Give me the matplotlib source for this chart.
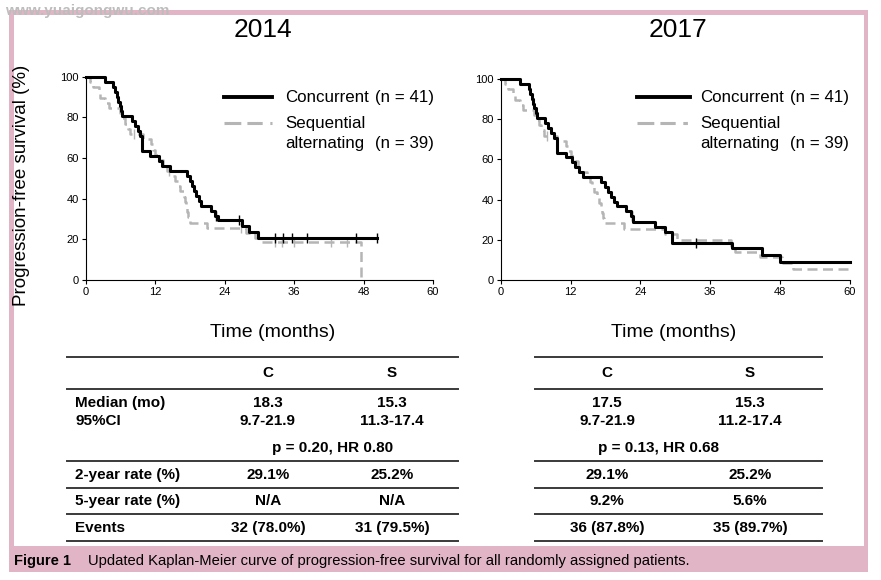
import matplotlib
matplotlib.use("Agg")
import matplotlib.pyplot as plt
import numpy as np
from matplotlib.patches import Rectangle

plt.rcParams["font.family"] = ["Liberation Sans", "DejaVu Sans"]

# --- curve data (months, % progression-free) ---
c14_t = [0, 3.3, 4.7, 5.0, 5.3, 5.5, 5.8, 6.0, 6.2, 7.9, 8.5, 9.0, 9.3, 9.7, 11.1, 12.6,
         13.1, 14.5, 17.4, 17.9, 18.3, 18.7, 19.1, 19.5, 19.8, 21.7, 22.3, 22.8, 26.9,
         28.1, 29.8, 50.3]
c14_s = [100, 97.6, 95.1, 92.7, 90.2, 87.8, 85.4, 82.9, 80.5, 78.0, 75.6, 73.2, 70.7, 63.4,
         61.0, 58.5, 56.1, 53.7, 51.2, 48.8, 46.3, 43.9, 41.5, 39.0, 36.6, 34.1, 31.7, 29.3,
         26.8, 23.5, 20.8, 20.8]
c14_cens = [22.5, 26.5, 32.7, 34.0, 35.6, 38.2, 46.7, 50.3]

s14_t = [0, 0.7, 1.2, 2.2, 2.5, 3.3, 3.9, 5.9, 6.3, 6.8, 7.3, 7.6, 9.9, 11.2, 11.5, 11.9,
         12.6, 13.4, 14.0, 15.1, 15.4, 15.9, 16.2, 16.9, 17.1, 17.3, 17.5, 17.7, 17.9, 20.9,
         27.7, 29.2, 30.3, 47.6]
s14_s = [100, 97.4, 94.9, 92.3, 89.7, 87.2, 84.6, 82.1, 79.5, 76.9, 74.4, 71.8, 69.2, 66.7,
         64.1, 61.5, 59.0, 56.4, 53.8, 51.3, 48.7, 46.2, 43.6, 41.0, 38.5, 35.9, 33.3, 30.8,
         28.2, 25.6, 23.0, 20.5, 18.9, 0]
s14_cens = [8.3, 14.3, 26.8, 32.7, 33.9, 35.9, 42.3, 45.2]

c17_t = [0, 3.3, 4.8, 5.1, 5.4, 5.6, 5.8, 6.0, 6.2, 7.6, 8.2, 8.7, 9.2, 9.6, 11.2, 12.2,
         12.8, 13.4, 14.2, 17.3, 17.9, 18.4, 18.9, 19.4, 20.0, 21.6, 22.3, 22.8, 26.5, 28.2,
         29.5, 39.7, 44.9, 48.0, 60]
c17_s = [100, 97.6, 95.1, 92.7, 90.2, 87.8, 85.4, 82.9, 80.5, 78.0, 75.6, 73.2, 70.7, 63.4,
         61.0, 58.5, 56.1, 53.7, 51.2, 48.8, 46.3, 43.9, 41.5, 39.0, 36.6, 34.1, 31.7, 29.1,
         26.5, 24.0, 18.5, 15.7, 12.4, 9.2, 9.2]
c17_cens = [22.6, 33.5]

s17_t = [0, 0.8, 1.3, 2.1, 2.4, 3.4, 3.8, 5.8, 6.2, 6.6, 7.0, 7.4, 9.7, 11.3, 11.6, 12.0,
         12.7, 13.2, 13.6, 14.9, 15.3, 15.7, 16.0, 16.6, 16.9, 17.2, 17.4, 17.6, 17.8, 21.2,
         28.3, 30.2, 39.5, 40.2, 44.6, 48.3, 50.2, 60]
s17_s = [100, 97.4, 94.9, 92.3, 89.7, 87.2, 84.6, 82.1, 79.5, 76.9, 74.4, 71.8, 69.2, 66.7,
         64.1, 61.5, 59.0, 56.4, 53.8, 51.3, 48.7, 46.2, 43.6, 41.0, 38.5, 35.9, 33.3, 30.8,
         28.2, 25.6, 23.0, 19.8, 16.9, 14.1, 11.3, 8.5, 5.6, 5.6]
s17_cens = [8.0]

x_ticks = [0, 12, 24, 36, 48, 60]
y_ticks = [0, 20, 40, 60, 80, 100]

# --- table data ---
col_heads = ["C", "S"]
row_labels = ["Median (mo)", "95%CI", "2-year rate (%)", "5-year rate (%)", "Events"]
t14_c = ["18.3", "9.7-21.9", "29.1%", "N/A", "32 (78.0%)"]
t14_s = ["15.3", "11.3-17.4", "25.2%", "N/A", "31 (79.5%)"]
t14_p = "p = 0.20, HR 0.80"
t17_c = ["17.5", "9.7-21.9", "29.1%", "9.2%", "36 (87.8%)"]
t17_s = ["15.3", "11.2-17.4", "25.2%", "5.6%", "35 (89.7%)"]
t17_p = "p = 0.13, HR 0.68"

BLACK = "black"
GREY = "#b5b5b5"
PINK = "#e2b5c6"
DASH = (0, (4, 2.2))


def at_times(t, s, ct):
    idx = np.searchsorted(t, ct, side="right") - 1
    return np.asarray(s)[idx]


W, H = 881, 580
fig = plt.figure(figsize=(W / 100, H / 100), dpi=100)

# overlay in pixel coordinates for frame, tables and caption
bg = fig.add_axes([0, 0, 1, 1])
bg.set_xlim(0, W)
bg.set_ylim(H, 0)
bg.axis("off")
bg.add_patch(Rectangle((10, 10), 858, 5, color=PINK, lw=0))
bg.add_patch(Rectangle((9, 10), 5, 540, color=PINK, lw=0))
bg.add_patch(Rectangle((864, 10), 4, 562, color=PINK, lw=0))
bg.add_patch(Rectangle((9, 546), 859, 26, color=PINK, lw=0))
bg.text(5, 15, "www.yuaigongwu.com", fontsize=11, fontweight="bold", color="#bdbdbd",
        va="baseline")
bg.text(14, 561, "Figure 1", fontsize=10.5, fontweight="bold", va="center")
bg.text(88, 561, "Updated Kaplan-Meier curve of progression-free survival for all "
        "randomly assigned patients.", fontsize=10.6, va="center")


def draw_table(x0, x1, xc, xs, xp, cvals, svals, pval, with_labels):
    for y in [357, 389, 461, 488, 514, 541]:
        bg.plot([x0, x1], [y, y], color="#3a3a3a", lw=1.4)
    kw = dict(fontsize=11, fontweight="bold", va="center")
    bg.text(xc, 373, col_heads[0], ha="center", **kw)
    bg.text(xs, 373, col_heads[1], ha="center", **kw)
    rows_y = [403, 421, 475, 501, 528]
    for i, y in enumerate(rows_y):
        if with_labels:
            bg.text(75, y, row_labels[i], ha="left", **kw)
        bg.text(xc, y, cvals[i], ha="center", **kw)
        bg.text(xs, y, svals[i], ha="center", **kw)
    bg.text(xp, 448, pval, ha="center", **kw)


draw_table(67, 458, 268, 392, 333, t14_c, t14_s, t14_p, True)
draw_table(535, 822, 607, 750, 658, t17_c, t17_s, t17_p, False)


def km_panel(rect, title, title_xy, ct, cs, ccens, st, ss, scens, leg, xlabel_xy, ylabel):
    ax = fig.add_axes(rect)
    ax.step(st, ss, where="post", color=GREY, lw=1.8, linestyle=DASH, clip_on=False, zorder=3)
    ax.step(ct, cs, where="post", color=BLACK, lw=2.2, clip_on=False, zorder=4)
    ax.plot(scens, at_times(st, ss, scens), ls="none", marker="|", ms=7, mew=1,
            color=GREY, clip_on=False, zorder=3)
    ax.plot(ccens, at_times(ct, cs, ccens), ls="none", marker="|", ms=7, mew=1,
            color=BLACK, clip_on=False, zorder=4)
    ax.set_xlim(0, 60)
    ax.set_ylim(0, 100)
    ax.set_xticks(x_ticks)
    ax.set_yticks(y_ticks)
    for sp in ["top", "right"]:
        ax.spines[sp].set_visible(False)
    for sp in ["left", "bottom"]:
        ax.spines[sp].set_linewidth(0.8)
    ax.tick_params(direction="out", length=3, width=0.8, labelsize=8, pad=2)
    ax.text(title_xy[0], title_xy[1], title, transform=ax.transAxes, ha="center",
            va="center", fontsize=19)
    ax.set_xlabel("Time (months)", fontsize=14)
    ax.xaxis.set_label_coords(*xlabel_xy)
    if ylabel:
        ax.set_ylabel("Progression-free survival (%)", fontsize=13.5)
        ax.yaxis.set_label_coords(-0.161, 0.467)

    lx0, lx1, ltx, lnx, y1, y2, y3 = leg
    ax.plot([lx0, lx1], [y1, y1], transform=ax.transAxes, color=BLACK, lw=2.8,
            clip_on=False)
    ax.plot([lx0, lx1], [y2, y2], transform=ax.transAxes, color=GREY, lw=2.2,
            linestyle=(0, (5.5, 2, 5, 2.5, 1.5, 2)), clip_on=False)
    tkw = dict(transform=ax.transAxes, fontsize=12.2, va="center", ha="left")
    ax.text(ltx, y1, "Concurrent", **tkw)
    ax.text(lnx, y1, "(n = 41)", **tkw)
    ax.text(ltx, y2, "Sequential", **tkw)
    ax.text(ltx, y3, "alternating", **tkw)
    ax.text(lnx, y3, "(n = 39)", **tkw)
    return ax


km_panel([86 / W, 300 / H, 347 / W, 203.3 / H], "2014", (0.51, 1.23),
         c14_t, c14_s, c14_cens, s14_t, s14_s, s14_cens,
         (0.398, 0.536, 0.573, 0.833, 0.90, 0.772, 0.669), (0.539, -0.215), True)
km_panel([500.7 / W, 300 / H, 349.3 / W, 201 / H], "2017", (0.508, 1.244),
         c17_t, c17_s, c17_cens, s17_t, s17_s, s17_cens,
         (0.39, 0.542, 0.571, 0.828, 0.91, 0.78, 0.677), (0.496, -0.218), False)

fig.savefig("out.png", dpi=100)
